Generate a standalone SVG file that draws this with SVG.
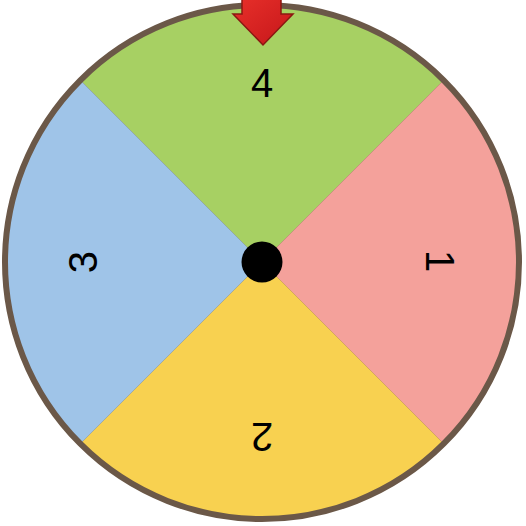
<svg xmlns="http://www.w3.org/2000/svg" width="526" height="526" viewBox="0 0 526 526">
<defs>
<style>
.num{font-family:"Liberation Sans",Arial,sans-serif;font-size:40px;fill:#000;text-anchor:middle;dominant-baseline:central}
.seg{stroke:none}
</style>
<linearGradient id="ar" x1="0" y1="0" x2="1" y2="1">
<stop offset="0" stop-color="#e8302a"/>
<stop offset="1" stop-color="#c5161a"/>
</linearGradient>
</defs>
<rect width="526" height="526" fill="#fff"/>
<g id="wheel">
<circle cx="262" cy="262" r="258" fill="#6b5848"/>
<g id="seg4"><path class="seg" d="M262,262 L79.6,79.6 A258,258 0 0 1 444.4,79.6 Z" fill="#a7d063"/></g>
<g id="seg1"><path class="seg" d="M262,262 L444.4,79.6 A258,258 0 0 1 444.4,444.4 Z" fill="#f4a19b"/></g>
<g id="seg2"><path class="seg" d="M262,262 L444.4,444.4 A258,258 0 0 1 79.6,444.4 Z" fill="#f8d150"/></g>
<g id="seg3"><path class="seg" d="M262,262 L79.6,444.4 A258,258 0 0 1 79.6,79.6 Z" fill="#9fc4e8"/></g>
<circle cx="262" cy="262" r="257" fill="none" stroke="#6b5848" stroke-width="6"/>
</g>
<g id="labels">
<text class="num" x="262" y="83">4</text>
<text class="num" transform="translate(440,261) rotate(90)">1</text>
<text class="num" transform="translate(262,437) rotate(180)">2</text>
<text class="num" transform="translate(83,262) rotate(-90)">3</text>
</g>
<g id="hub"><circle cx="262" cy="262" r="20.5" fill="#000"/></g>
<g id="pointer"><polygon points="242,-2 281,-2 281,14 293,14 263,45 233,14 242,14" fill="url(#ar)" stroke="#8a1812" stroke-width="1.5" stroke-linejoin="miter"/></g>
</svg>
